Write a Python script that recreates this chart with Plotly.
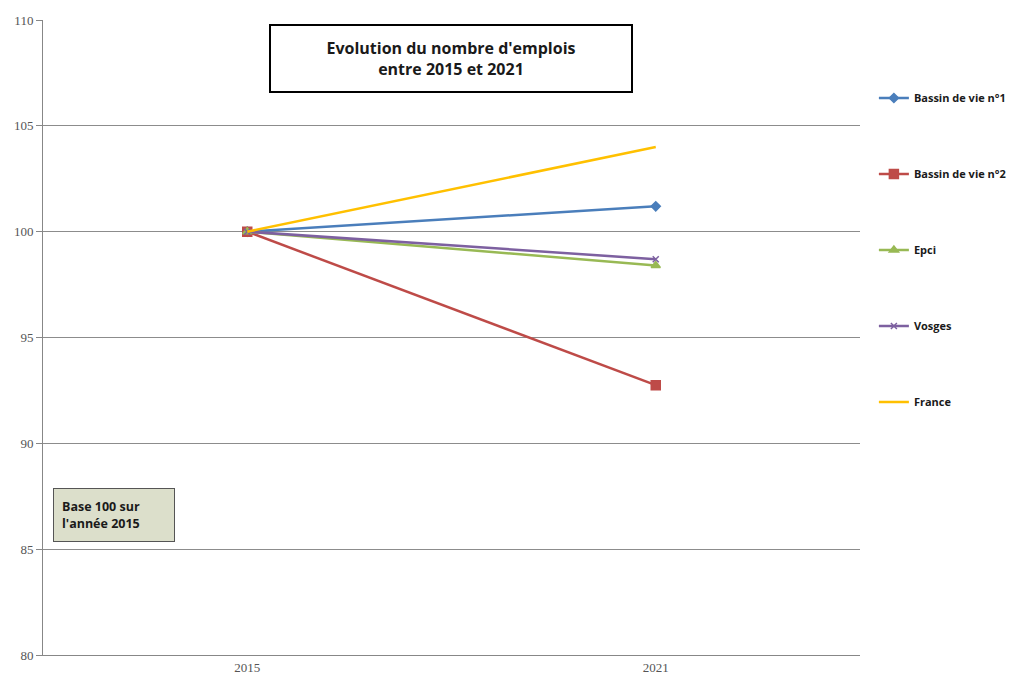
import plotly.graph_objects as go

years = ["2015", "2021"]
series_names = ["Bassin de vie n°1", "Bassin de vie n°2", "Epci", "Vosges", "France"]
bassin1 = [100, 101.2]
bassin2 = [100, 92.75]
epci = [100, 98.4]
vosges = [100, 98.7]
france = [100, 104.0]
y_ticks = [80, 85, 90, 95, 100, 105, 110]

values = [bassin1, bassin2, epci, vosges, france]
colors = ["#4a7ebb", "#be4b48", "#98b954", "#7d60a0", "#ffc000"]
symbols = ["diamond", "square", "triangle-up", "x-thin", "circle"]
msizes = [7, 9, 8, 6, 0]

fig = go.Figure()
for i, (name, vals) in enumerate(zip(series_names, values)):
    fig.add_trace(go.Scatter(
        x=years, y=vals, name=name, mode="lines+markers" if msizes[i] else "lines",
        line=dict(color=colors[i], width=2.5),
        marker=dict(symbol=symbols[i], size=msizes[i], color=colors[i],
                    line=dict(color=colors[i], width=1.5)),
        legendgroup=f"g{i}",
    ))

fig.update_layout(
    width=1011, height=672,
    margin=dict(l=35, r=159, t=12, b=25, autoexpand=False),
    paper_bgcolor="white", plot_bgcolor="white",
    showlegend=True,
    legend=dict(x=1.017, y=1 - (250 - 20) / 635, xanchor="left", yanchor="middle",
                font=dict(family="Open Sans", size=11, color="#1a1a1a", weight="bold"),
                tracegroupgap=57, itemwidth=30, bgcolor="rgba(0,0,0,0)"),
    xaxis=dict(type="category", range=[-0.5, 1.5], showgrid=False,
               showline=True, linecolor="#878787", linewidth=1,
               ticks="", tickfont=dict(family="Liberation Serif", size=13, color="#555555")),
    yaxis=dict(range=[80, 110], tickvals=y_ticks, showgrid=True, gridcolor="#8c8c8c",
               gridwidth=1, showline=True, linecolor="#878787", linewidth=1,
               ticks="outside", ticklen=6, tickcolor="#878787",
               tickfont=dict(family="Liberation Serif", size=13, color="#555555"),
               zeroline=False),
)

# Title box
fig.add_annotation(
    xref="paper", yref="paper", x=(451 - 43) / 817, y=1 - (59 - 20) / 635,
    xanchor="center", yanchor="middle",
    text="<b>Evolution du nombre d'emplois<br>entre 2015 et 2021</b>",
    showarrow=False, font=dict(family="Open Sans", size=16, color="#1a1a1a"),
    bordercolor="#000000", borderwidth=2, borderpad=8, bgcolor="white",
    width=344, height=49, align="center",
)

# Base 100 box
fig.add_annotation(
    xref="paper", yref="paper", x=(114 - 43) / 817, y=1 - (515 - 20) / 635,
    xanchor="center", yanchor="middle",
    text="<b>Base 100 sur<br>l'année 2015</b>",
    showarrow=False, font=dict(family="Open Sans", size=12.5, color="#1a1a1a"),
    bordercolor="#555555", borderwidth=1, borderpad=8, bgcolor="#dcdfcb",
    width=104, height=36, align="left",
)

fig.write_html("out.html")
